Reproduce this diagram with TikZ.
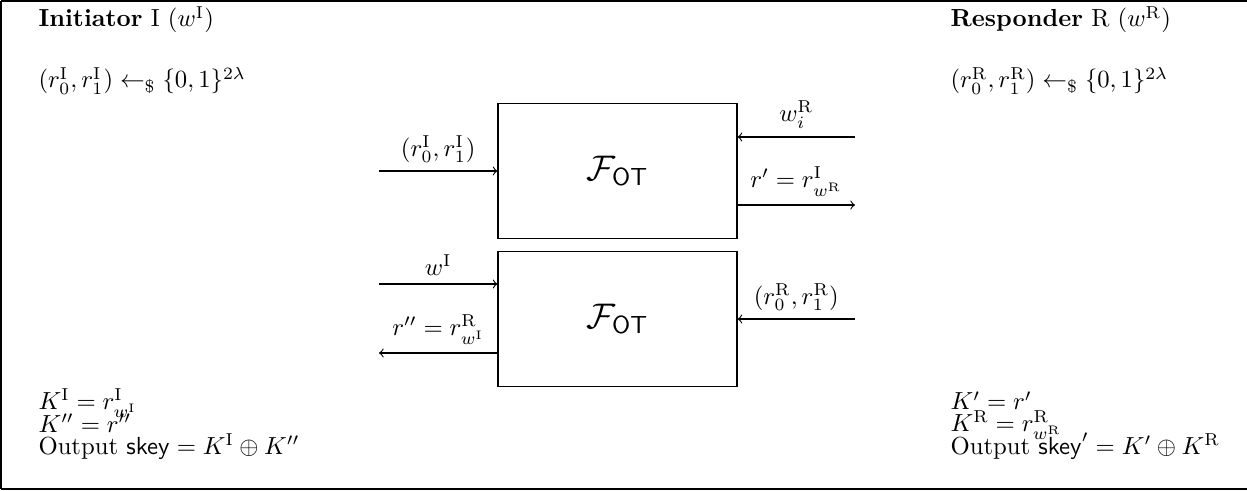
\documentclass[tikz,border=0pt]{standalone}
\usepackage{amsmath,amssymb}
\newcommand{\rI}{\mathrm{I}}
\newcommand{\rR}{\mathrm{R}}
\newcommand{\smp}{\mathrel{\leftarrow_{\$}}}
\newcommand{\FOT}{\mathcal{F}_{\mathsf{OT}}}
\begin{document}
\begin{tikzpicture}[x=0.405pt,y=-0.405pt, line width=0.45pt,
  otbox/.style={draw, minimum width=96.8pt, minimum height=55pt, inner sep=0pt, font=\Large},
  txt/.style={anchor=base west, inner sep=0pt},
  flow/.style={->},
  lab/.style={midway, above}
]
\useasboundingbox (0,0) rectangle (1247,491);
\draw (1,1) -- (1300,1);
\draw (1,489) -- (1300,489);
\draw (1,1) -- (1,489);

% party texts
\node[txt] (tI) at (38,27) {\textbf{Initiator} I ($w^{\rI}$)};
\node[txt] (sI) at (38,88) {$(r_0^{\rI}, r_1^{\rI}) \smp \{0,1\}^{2\lambda}$};
\node[txt] (tR) at (950,27) {\textbf{Responder} R ($w^{\rR}$)};
\node[txt] (sR) at (950,88) {$(r_0^{\rR}, r_1^{\rR}) \smp \{0,1\}^{2\lambda}$};

\node[txt] (kI1) at (38,409) {$K^{\rI} = r^{\rI}_{w^{\rI}}$};
\node[txt] (kI2) at (38,432) {$K'' = r''$};
\node[txt] (kI3) at (38,454) {Output $\mathsf{skey} = K^{\rI} \oplus K''$};
\node[txt] (kR1) at (950,410) {$K' = r'$};
\node[txt] (kR2) at (950,431) {$K^{\rR} = r^{\rR}_{w^{\rR}}$};
\node[txt] (kR3) at (950,454) {Output $\mathsf{skey}' = K' \oplus K^{\rR}$};

% OT boxes
\node[otbox] (ot1) at (617.5,171) {$\FOT$};
\node[otbox] (ot2) at (617.5,319) {$\FOT$};

% free ends
\coordinate (a1) at (379,171);
\coordinate (b1) at (855,137);
\coordinate (c1) at (855,205);
\coordinate (a2) at (379,284);
\coordinate (d2) at (379,353);
\coordinate (b2) at (855,319);

\draw[flow] (a1) -- node[lab] {$(r_0^{\rI}, r_1^{\rI})$} (ot1.west);
\draw[flow] (b1) -- node[lab] {$w_i^{\rR}$} (b1 -| ot1.east);
\draw[flow] (c1 -| ot1.east) -- node[lab] {$r' = r^{\rI}_{w^{\rR}}$} (c1);
\draw[flow] (a2) -- node[lab] {$w^{\rI}$} (a2 -| ot2.west);
\draw[flow] (d2 -| ot2.west) -- node[lab] {$r'' = r^{\rR}_{w^{\rI}}$} (d2);
\draw[flow] (b2) -- node[lab] {$(r_0^{\rR}, r_1^{\rR})$} (ot2.east);
\end{tikzpicture}
\end{document}
